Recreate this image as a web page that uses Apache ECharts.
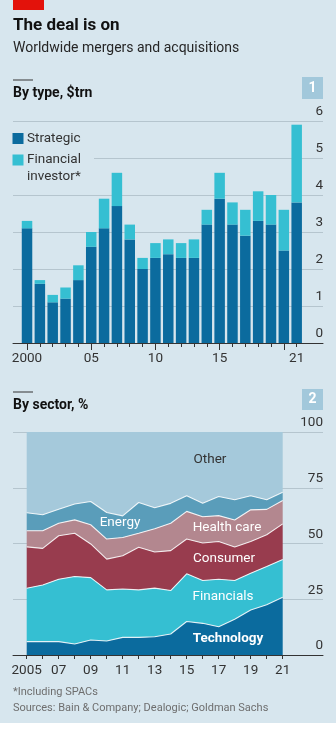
<!DOCTYPE html>
<html>
<head>
<meta charset="utf-8">
<script src="https://cdn.jsdelivr.net/npm/echarts@6/dist/echarts.min.js"></script>
<style>
  html, body { margin: 0; padding: 0; background: #ffffff; }
  #chart { width: 336px; height: 723px; }
</style>
</head>
<body>
<div id="chart"></div>
<script>
// Panel 1: worldwide M&A by type, $trn
const typeYears = ['2000','2001','2002','2003','2004','2005','2006','2007','2008','2009','2010',
                   '2011','2012','2013','2014','2015','2016','2017','2018','2019','2020','2021'];
const strategic = [3.1, 1.6, 1.1, 1.2, 1.7, 2.6, 3.1, 3.7, 2.8, 2.0, 2.3,
                   2.4, 2.3, 2.3, 3.2, 3.9, 3.2, 2.9, 3.3, 3.2, 2.5, 3.8];
const financialInvestor = [0.2, 0.1, 0.2, 0.3, 0.4, 0.4, 0.8, 0.9, 0.4, 0.3, 0.4,
                           0.4, 0.4, 0.5, 0.4, 0.7, 0.6, 0.7, 0.8, 0.8, 1.1, 2.1];
const typeYearLabels = ['2000', '2005', '2010', '2015', '2021'];
const typeMajorTicks = ['2000', '2005', '2010', '2015', '2020'];

// Panel 2: share of M&A by sector, %
const sectorYears = ['2005','2006','2007','2008','2009','2010','2011','2012','2013',
                     '2014','2015','2016','2017','2018','2019','2020','2021'];
const technology = [6.0, 6.0, 6.0, 4.9, 6.7, 6.3, 7.9, 7.9, 8.2, 9.4, 15.0, 14.2, 12.7, 16.0, 20.2, 22.5, 25.9];
const financials = [23.9, 25.4, 28.0, 30.3, 28.0, 22.9, 21.7, 21.3, 21.8, 19.5, 21.4, 19.2, 21.3, 17.4, 16.5, 17.2, 16.9];
const consumer   = [18.6, 16.4, 19.5, 19.4, 15.1, 13.8, 14.9, 19.1, 16.2, 17.9, 15.6, 16.8, 16.9, 15.0, 14.2, 14.2, 16.0];
const healthCare = [7.2, 7.9, 5.6, 6.0, 8.6, 9.0, 8.2, 6.3, 10.4, 12.3, 12.4, 11.8, 11.6, 12.1, 14.2, 11.4, 10.5];
const energy     = [8.1, 7.2, 6.3, 7.1, 10.4, 11.9, 9.7, 13.8, 9.4, 8.9, 7.0, 6.1, 8.6, 9.1, 6.3, 4.3, 3.7];
const other      = [36.2, 37.1, 34.6, 32.3, 31.2, 36.1, 37.6, 31.6, 34.0, 32.0, 28.6, 31.9, 28.9, 30.4, 28.6, 30.4, 27.0];
const sectorYearLabels = ['2005','2007','2009','2011','2013','2015','2017','2019','2021'];

const typeTicks = [0, 1, 2, 3, 4, 5, 6];
const sectorTicks = [0, 25, 50, 75, 100];

const FONT = 'Roboto, "Liberation Sans", sans-serif';
const BG = '#d7e6ee';
const GRID_LINE = '#b5c5ce';
const AXIS = '#333333';
const TEXT = '#333333';
const C_STRAT = '#0b6b9e';
const C_FIN = '#35bfd2';

const sectorDefs = [
  { name: 'Technology', data: technology, color: '#0b6b9e' },
  { name: 'Financials', data: financials, color: '#35bfd2' },
  { name: 'Consumer', data: consumer, color: '#983c4e' },
  { name: 'Health care', data: healthCare, color: '#b3878f' },
  { name: 'Energy', data: energy, color: '#5a9dba' },
  { name: 'Other', data: other, color: '#a5c9db' }
];

// first label of each axis in full, the rest as two digits
const yearFormatter = first => v => (v === first ? v : v.slice(2));

const rightValueAxis = (gridIndex, ticks) => ({
  type: 'value', gridIndex, position: 'right',
  min: ticks[0], max: ticks[ticks.length - 1], interval: ticks[1] - ticks[0],
  axisLine: { show: false }, axisTick: { show: false },
  splitLine: { show: true, lineStyle: { color: GRID_LINE, width: 1 } },
  axisLabel: { inside: true, margin: 0, verticalAlign: 'bottom', padding: [0, 0, 2, 0],
               color: TEXT, fontFamily: FONT, fontSize: 13.5 }
});
const hiddenValueAxis = (gridIndex, ticks) => ({
  type: 'value', gridIndex, show: false,
  min: ticks[0], max: ticks[ticks.length - 1]
});
const baseLineAxis = gridIndex => ({
  type: 'value', gridIndex, min: 0, max: 1, position: 'bottom',
  axisLine: { show: true, lineStyle: { color: AXIS, width: 1 } },
  axisTick: { show: false }, axisLabel: { show: false }, splitLine: { show: false }
});

const chart = echarts.init(document.getElementById('chart'), null, { renderer: 'canvas' });

const option = {
  backgroundColor: BG,
  animation: false,
  grid: [
    { left: 13, width: 310, top: 121, height: 222 },
    { left: 20.6, width: 282.5, top: 121, height: 222 },
    { left: 13, width: 310, top: 432, height: 223 },
    { left: 26.7, width: 256, top: 432, height: 223 }
  ],
  xAxis: [
    baseLineAxis(0),
    {
      type: 'category', gridIndex: 1, data: typeYears, boundaryGap: true, position: 'bottom',
      axisLine: { show: false },
      axisTick: { show: true, alignWithLabel: true, length: 7,
                  interval: (i, v) => typeMajorTicks.includes(v),
                  lineStyle: { color: AXIS, width: 1 } },
      axisLabel: { interval: (i, v) => typeYearLabels.includes(v), formatter: yearFormatter('2000'),
                   margin: 9, color: TEXT, fontFamily: FONT, fontSize: 13.5 }
    },
    {
      type: 'category', gridIndex: 1, data: typeYears, boundaryGap: true, position: 'bottom',
      axisLine: { show: false },
      axisTick: { show: true, alignWithLabel: true, length: 4, interval: 0,
                  lineStyle: { color: AXIS, width: 1 } },
      axisLabel: { show: false }
    },
    baseLineAxis(2),
    {
      type: 'category', gridIndex: 3, data: sectorYears, boundaryGap: false, position: 'bottom',
      axisLine: { show: false },
      axisTick: { show: true, length: 4, interval: 0, lineStyle: { color: AXIS, width: 1 } },
      axisLabel: { interval: (i, v) => sectorYearLabels.includes(v), formatter: yearFormatter('2005'),
                   margin: 9, color: TEXT, fontFamily: FONT, fontSize: 13.5 }
    }
  ],
  yAxis: [
    rightValueAxis(0, typeTicks),
    hiddenValueAxis(1, typeTicks),
    rightValueAxis(2, sectorTicks),
    hiddenValueAxis(3, sectorTicks)
  ],
  series: [
    {
      name: 'Strategic', type: 'bar', stack: 'type', xAxisIndex: 1, yAxisIndex: 1,
      data: strategic, barWidth: 10.5, itemStyle: { color: C_STRAT }
    },
    {
      name: 'Financial investor*', type: 'bar', stack: 'type', xAxisIndex: 1, yAxisIndex: 1,
      data: financialInvestor, barWidth: 10.5, itemStyle: { color: C_FIN }
    }
  ].concat(sectorDefs.map((s, i) => ({
    name: s.name, type: 'line', stack: 'sector', xAxisIndex: 4, yAxisIndex: 3,
    data: s.data, symbol: 'none', smooth: false, z: 20 - i,
    lineStyle: { color: 'rgba(255,255,255,0.85)', width: s.name === 'Other' ? 0 : 1.1 },
    areaStyle: { color: s.color, opacity: 1 }
  }))),
  graphic: [
    // header
    { type: 'rect', shape: { x: 13, y: 0, width: 31, height: 10 }, style: { fill: '#e3120b' } },
    { type: 'text', x: 13, y: 26, style: { text: 'The deal is on', fill: '#111', textVerticalAlign: 'middle',
      font: 'bold 17px ' + FONT } },
    { type: 'text', x: 13, y: 48, style: { text: 'Worldwide mergers and acquisitions', fill: '#262626',
      textVerticalAlign: 'middle', font: '14px ' + FONT } },
    // panel 1 heading
    { type: 'rect', shape: { x: 13, y: 79.5, width: 20, height: 1 }, style: { fill: AXIS } },
    { type: 'text', x: 13, y: 93, style: { text: 'By type, $trn', fill: '#111', textVerticalAlign: 'middle',
      font: 'bold 14px ' + FONT } },
    { type: 'rect', shape: { x: 302, y: 77, width: 21, height: 22 }, style: { fill: '#a2c8db' } },
    { type: 'text', x: 312.5, y: 88, style: { text: '1', fill: '#fff', textAlign: 'center',
      textVerticalAlign: 'middle', font: 'bold 14px ' + FONT } },
    // panel 1 key
    { type: 'rect', z: 100, shape: { x: 12, y: 150, width: 82, height: 34 }, style: { fill: BG } },
    { type: 'rect', z: 101, shape: { x: 12.5, y: 133, width: 11, height: 11 }, style: { fill: C_STRAT } },
    { type: 'text', z: 101, x: 27, y: 138.5, style: { text: 'Strategic', fill: TEXT, textVerticalAlign: 'middle',
      font: '13.5px ' + FONT } },
    { type: 'rect', z: 101, shape: { x: 12.5, y: 154.5, width: 11, height: 11 }, style: { fill: C_FIN } },
    { type: 'text', z: 101, x: 27, y: 160, style: { text: 'Financial', fill: TEXT, textVerticalAlign: 'middle',
      font: '13.5px ' + FONT } },
    { type: 'text', z: 101, x: 27, y: 176.5, style: { text: 'investor*', fill: TEXT, textVerticalAlign: 'middle',
      font: '13.5px ' + FONT } },
    // panel 2 heading
    { type: 'rect', shape: { x: 13, y: 391.5, width: 20, height: 1 }, style: { fill: AXIS } },
    { type: 'text', x: 13, y: 405, style: { text: 'By sector, %', fill: '#111', textVerticalAlign: 'middle',
      font: 'bold 14px ' + FONT } },
    { type: 'rect', shape: { x: 302, y: 389, width: 21, height: 21 }, style: { fill: '#a2c8db' } },
    { type: 'text', x: 312.5, y: 399.5, style: { text: '2', fill: '#fff', textAlign: 'center',
      textVerticalAlign: 'middle', font: 'bold 14px ' + FONT } },
    // panel 2 area labels
    { type: 'text', z: 100, x: 210, y: 460, style: { text: 'Other', fill: TEXT, textAlign: 'center',
      textVerticalAlign: 'middle', font: '13.5px ' + FONT } },
    { type: 'text', z: 100, x: 120, y: 523, style: { text: 'Energy', fill: '#fff', textAlign: 'center',
      textVerticalAlign: 'middle', font: '13.5px ' + FONT } },
    { type: 'text', z: 100, x: 227, y: 528, style: { text: 'Health care', fill: '#fff', textAlign: 'center',
      textVerticalAlign: 'middle', font: '13.5px ' + FONT } },
    { type: 'text', z: 100, x: 224, y: 559, style: { text: 'Consumer', fill: '#fff', textAlign: 'center',
      textVerticalAlign: 'middle', font: '13.5px ' + FONT } },
    { type: 'text', z: 100, x: 223, y: 597, style: { text: 'Financials', fill: '#fff', textAlign: 'center',
      textVerticalAlign: 'middle', font: '13.5px ' + FONT } },
    { type: 'text', z: 100, x: 228, y: 639, style: { text: 'Technology', fill: '#fff', textAlign: 'center',
      textVerticalAlign: 'middle', font: 'bold 13.5px ' + FONT } },
    // footnotes
    { type: 'text', x: 13, y: 692, style: { text: '*Including SPACs', fill: '#6e6e6e', textVerticalAlign: 'middle',
      font: '11px ' + FONT } },
    { type: 'text', x: 13, y: 708, style: { text: 'Sources: Bain & Company; Dealogic; Goldman Sachs', fill: '#6e6e6e',
      textVerticalAlign: 'middle', font: '11px ' + FONT } }
  ]
};

chart.setOption(option);
</script>
</body>
</html>
